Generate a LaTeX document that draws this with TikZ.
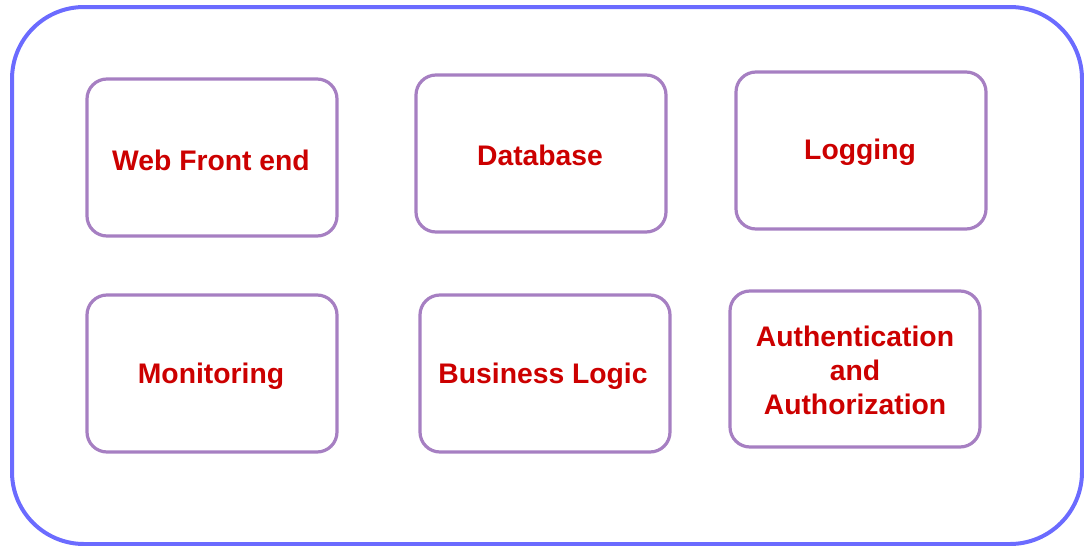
\documentclass[tikz,border=0pt]{standalone}
\usepackage{fontspec}
\setmainfont{Liberation Sans}
\definecolor{outerblue}{HTML}{6B6BFF}
\definecolor{boxpurple}{HTML}{A67FC2}
\definecolor{txtred}{HTML}{CC0000}
\begin{document}
\begin{tikzpicture}[x=1pt,y=-1pt,
  comp/.style={draw=boxpurple, line width=3.2pt, rounded corners=20pt, fill=white},
  lbl/.style={text=txtred, font=\fontsize{28.3}{34}\selectfont\bfseries, align=center, inner sep=0pt}]
\useasboundingbox (0,0) rectangle (1084,546);
\draw[draw=outerblue, line width=4pt, rounded corners=72pt] (12,7) rectangle (1082,544);
% boxes
\draw[comp] (87,79) rectangle (337,236);
\draw[comp] (416,75) rectangle (666,232);
\draw[comp] (736,72) rectangle (986,229);
\draw[comp] (87,295) rectangle (337,452);
\draw[comp] (420,295) rectangle (670,452);
\draw[comp] (730,291) rectangle (980,447);
% labels
\node[lbl] (web) at (211,160) {Web Front end};
\node[lbl] (db) at (540,155) {Database};
\node[lbl] (log) at (860,152) {Logging};
\node[lbl] (mon) at (211,376) {Monitoring};
\node[lbl] (bl) at (543,376) {Business Logic};
\node[lbl] (auth) at (855,370) {Authentication\\and\\Authorization};
\end{tikzpicture}
\end{document}
